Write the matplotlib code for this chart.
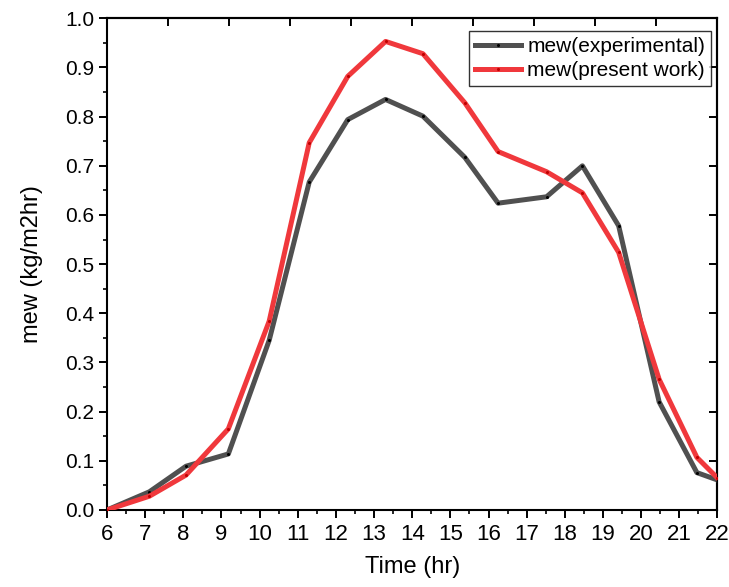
import matplotlib
matplotlib.use("Agg")
import matplotlib.pyplot as plt
import numpy as np
from matplotlib.ticker import MultipleLocator, FixedLocator

# Data
time_hr = [6.0, 7.11, 8.07, 9.18, 10.25, 11.30, 12.31, 13.30, 14.28,
           15.38, 16.25, 17.52, 18.46, 19.41, 20.47, 21.46, 22.0]
mew_experimental = [0.0, 0.037, 0.089, 0.114, 0.345, 0.667, 0.794, 0.835, 0.801,
                    0.717, 0.624, 0.637, 0.700, 0.578, 0.220, 0.076, 0.061]
mew_present = [0.0, 0.028, 0.071, 0.165, 0.384, 0.747, 0.882, 0.953, 0.928,
               0.828, 0.729, 0.688, 0.645, 0.524, 0.266, 0.107, 0.065]

plt.rcParams['font.family'] = ['Liberation Sans', 'DejaVu Sans']

fig = plt.figure(figsize=(7.29, 5.87), dpi=100)
ax = fig.add_axes([0.1468, 0.1312, 0.8374, 0.8376])

ax.plot(time_hr, mew_experimental, color="#505050", lw=3.6,
        marker="o", ms=1.2, mfc="black", mec="black",
        label="mew(experimental)", zorder=3)
ax.plot(time_hr, mew_present, color="#f0383c", lw=3.6,
        marker="o", ms=1.2, mfc="#c00000", mec="#c00000",
        label="mew(present work)", zorder=4)

ax.set_xlim(6, 22)
ax.set_ylim(0, 1.0)

# bottom / left axes: outward ticks with minors
ax.xaxis.set_major_locator(MultipleLocator(1))
ax.xaxis.set_minor_locator(MultipleLocator(0.5))
ax.yaxis.set_major_locator(MultipleLocator(0.1))
ax.yaxis.set_minor_locator(MultipleLocator(0.05))
ax.yaxis.set_major_formatter(matplotlib.ticker.FormatStrFormatter('%.1f'))
ax.tick_params(which="major", direction="out", length=6, width=1.4, top=False, right=False)
ax.tick_params(which="minor", direction="out", length=3, width=1.2, top=False, right=False)
ax.tick_params(axis="x", labelsize=16, pad=4)
ax.tick_params(axis="y", labelsize=15, pad=3)

for s in ax.spines.values():
    s.set_linewidth(1.5)

# mirrored top / right axes with inward ticks
top = ax.secondary_xaxis("top")
top.xaxis.set_major_locator(FixedLocator(np.linspace(6, 22, 11)))
top.tick_params(direction="in", length=6, width=1.4, labeltop=False)
top.xaxis.set_minor_locator(FixedLocator([]))
top.spines["top"].set_linewidth(1.5)
right = ax.secondary_yaxis("right")
right.yaxis.set_major_locator(MultipleLocator(0.1))
right.yaxis.set_minor_locator(FixedLocator([]))
right.tick_params(direction="in", length=6, width=1.4, labelright=False)
right.spines["right"].set_linewidth(1.5)

ax.set_xlabel("Time (hr)", fontsize=17, labelpad=8)
ax.set_ylabel("mew (kg/m2hr)", fontsize=17, labelpad=16)

leg = ax.legend(loc="upper right", bbox_to_anchor=(0.99, 0.975), fontsize=15,
                frameon=True, fancybox=False, edgecolor="black",
                handlelength=2.2, handletextpad=0.3, borderpad=0.3,
                labelspacing=0.25, borderaxespad=0)
leg.get_frame().set_linewidth(1.0)

fig.savefig("out.png", dpi=100)
